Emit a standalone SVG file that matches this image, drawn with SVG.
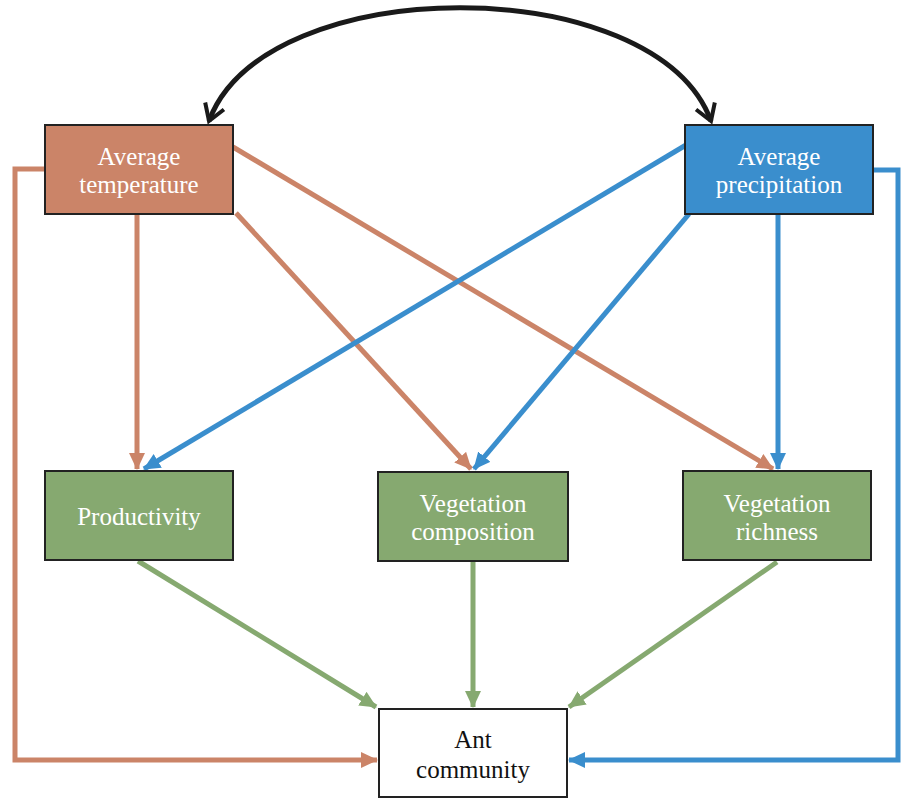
<svg xmlns="http://www.w3.org/2000/svg" width="905" height="799" viewBox="0 0 905 799">
<style>
.box{stroke:#222;stroke-width:2}
.c{fill:none;stroke-width:5}
.tc{stroke:#CB8468}
.pc{stroke:#3A8ECD}
.gc{stroke:#86A970}
</style>
<defs>
<marker id="at" markerUnits="userSpaceOnUse" markerWidth="20" markerHeight="18" refX="16" refY="8" orient="auto"><path d="M0,0 L17,8 L0,16 Z" fill="#CB8468"/></marker>
<marker id="ap" markerUnits="userSpaceOnUse" markerWidth="20" markerHeight="18" refX="16" refY="8" orient="auto"><path d="M0,0 L17,8 L0,16 Z" fill="#3A8ECD"/></marker>
<marker id="ag" markerUnits="userSpaceOnUse" markerWidth="20" markerHeight="18" refX="16" refY="8" orient="auto"><path d="M0,0 L17,8 L0,16 Z" fill="#86A970"/></marker>
<marker id="ak" markerUnits="userSpaceOnUse" markerWidth="26" markerHeight="26" refX="19" refY="13" orient="auto-start-reverse"><path d="M3,3 L19,13 L3,23" fill="none" stroke="#1a1a1a" stroke-width="4"/></marker>
</defs>
<g id="connectors">
<path class="c" d="M209,121 C265,-30 655,-30 711,121" marker-start="url(#ak)" marker-end="url(#ak)" style="stroke:#1a1a1a"/>
<path class="c tc" d="M45,169 H15 V760 H377" marker-end="url(#at)"/>
<path class="c pc" d="M873,170 H898 V760 H569" marker-end="url(#ap)"/>
<path class="c tc" d="M137,214 V469" marker-end="url(#at)"/>
<path class="c tc" d="M236,213 L471,469" marker-end="url(#at)"/>
<path class="c tc" d="M233,147 L773,469" marker-end="url(#at)"/>
<path class="c pc" d="M686,145 L144,469" marker-end="url(#ap)"/>
<path class="c pc" d="M689,214 L474,469" marker-end="url(#ap)"/>
<path class="c pc" d="M778,214 V469" marker-end="url(#ap)"/>
<path class="c gc" d="M138,561 L376,707" marker-end="url(#ag)"/>
<path class="c gc" d="M473,561 V707" marker-end="url(#ag)"/>
<path class="c gc" d="M777,562 L569,707" marker-end="url(#ag)"/>
</g>
<g font-family="Liberation Serif, Times New Roman, serif" font-size="25" text-anchor="middle">
<g id="temperature">
<rect class="box" x="45" y="125" width="188" height="89" fill="#CB8468"/>
<text fill="#fff" x="139" y="165">Average</text>
<text fill="#fff" x="139" y="193">temperature</text>
</g>
<g id="precipitation">
<rect class="box" x="685" y="125" width="188" height="89" fill="#3A8ECD"/>
<text fill="#fff" x="779" y="165">Average</text>
<text fill="#fff" x="779" y="193">precipitation</text>
</g>
<g id="productivity">
<rect class="box" x="45" y="471" width="188" height="89" fill="#86A970"/>
<text fill="#fff" x="139" y="525">Productivity</text>
</g>
<g id="vegcomp">
<rect class="box" x="378" y="472" width="190" height="89" fill="#86A970"/>
<text fill="#fff" x="473" y="512">Vegetation</text>
<text fill="#fff" x="473" y="540">composition</text>
</g>
<g id="vegrich">
<rect class="box" x="683" y="471" width="188" height="89" fill="#86A970"/>
<text fill="#fff" x="777" y="512">Vegetation</text>
<text fill="#fff" x="777" y="540">richness</text>
</g>
<g id="ant">
<rect class="box" x="379" y="709" width="188" height="88" fill="#fff"/>
<text fill="#111" x="473" y="748">Ant</text>
<text fill="#111" x="473" y="778">community</text>
</g>
</g>
</svg>
